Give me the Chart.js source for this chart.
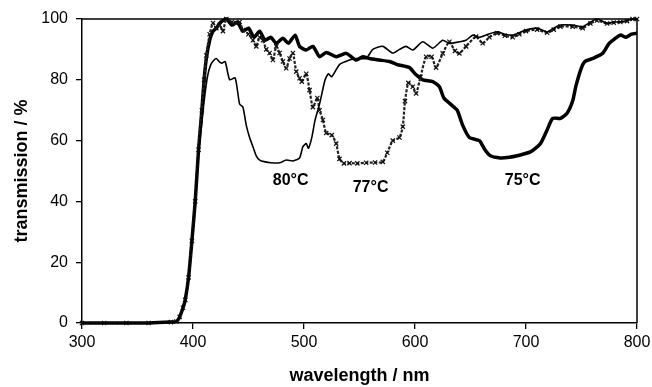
<!DOCTYPE html>
<html>
<head>
<meta charset="utf-8">
<script src="https://cdn.jsdelivr.net/npm/chart.js@4/dist/chart.umd.min.js"></script>
<style>
  html, body { margin: 0; padding: 0; background: #fff; }
  #wrap { width: 652px; height: 387px; }
</style>
</head>
<body>
<div id="wrap"><canvas id="spec"></canvas></div>
<script>
// transmission spectra
const wl80 = [300,320,340,360,380,385,388,391,393,396,399,402,405,408,410,413,416,419,421,424,426,429,433,438,442,445,448,451,454,457,460,465,470,478,484,490,496,499,502,504,507,510,514,519,522,525,532,541,547,556,562,571,580,586,592,598,607,616,625,631,640,646,652,658,666,674,681,688,694,700,710,719,725,731,742,751,758,764,773,779,785,791,796,800];
const t80  = [0,0,0,0,0.3,0.5,2,5,7.6,15,27,40,56,66,73,81,85,86.5,87,85.8,85.5,86,80,80.6,72,71,65,61,58,55,53.6,53,52.7,52.7,53.6,53.3,54.3,58,59,57.5,61,66.8,72,80,82,81,85,86.5,87,87,90,91,88.8,90,91,89.8,92.5,90.4,93,92,92.5,93,94.7,94,95,95.8,95,94.7,95.5,96.4,97,95.8,97,98,98,97.5,99,100,98.6,99,99,99.5,100,100];

const wl77 = [300,320,340,360,380,385,388,391,393,396,399,402,405,408,410,412,415,418,421,424,427,430,435,439,442,445,450,454,457,460,463,466,469,472,475,478,481,484,487,490,493,496,498,502,505,508,512,514,517,520,525,529,532,536,541,548,556,564,571,575,580,586,589,591,594,598,601,605,610,615,619,625,631,636,640,646,655,661,667,674,681,688,694,700,710,719,725,731,742,751,758,764,773,779,785,791,796,800];
const t77  = [0,0,0,0,0.3,0.5,2,5,7.6,15,27,40,57,70,80,88,95,98.7,97,98,96,100,99,98.6,99,96.4,95,93,91,94,93,90,88.8,86.5,91,88.8,86,83.8,87,88.8,82.7,80.5,79.4,82,76.6,71,74,70,66.8,62.5,61.8,59,54,52.5,52.6,52.5,52.7,52.8,53,56,60,61,64.6,73,79,77.7,75.5,81,87.6,87.6,84,88.7,92.5,89.5,88.7,91,94.2,92,94,95.3,94.5,94,95,96,96.5,95.5,96.5,97.5,97.5,97,98.5,99.5,98.5,98.8,99,99.3,100,100];

const wl75 = [300,320,340,360,380,385,388,391,393,396,399,402,405,408,410,412,415,418,421,425,430,435,440,445,450,455,460,465,470,475,481,486,492,496,502,508,514,520,529,538,547,553,559,568,577,584,595,600,607,616,622,626,632,638,643,649,658,663,668,677,685,692,704,713,719,724,731,737,742,745,750,753,760,769,775,785,790,795,800];
const t75  = [0,0,0,0,0.3,0.5,2,5,7.6,15,27,40,57,70,80,87,93,96,97,99,100,98,99,96,97,94,96,93,94,92,93.7,92,94.7,91,89.8,91,87.6,89,87.6,88.7,86.5,87.6,87,86.5,86,85,84,82,80,79.4,77.7,74,72,70,65,61,60,57,55,54.3,54.5,55,56.3,59,63.5,67.3,67.3,69,73,78,84,86,87,88.7,92,94.7,94,95,95.3];

const xTicks = [300, 400, 500, 600, 700, 800];
const yTicks = [0, 20, 40, 60, 80, 100];

// curve labels: text, wavelength, transmission
const labelText = ['80°C', '77°C', '75°C'];
const labelX = [488, 560, 697];
const labelY = [47, 44.5, 47];

const pts = (xs, ys) => xs.map((x, i) => ({ x, y: ys[i] }));

const frame = {
  id: 'frame',
  afterDraw(chart) {
    const { ctx, chartArea: a } = chart;
    ctx.save();
    ctx.strokeStyle = '#000';
    ctx.lineWidth = 1.5;
    ctx.beginPath();
    ctx.moveTo(a.left, a.top);
    ctx.lineTo(a.right, a.top);
    ctx.lineTo(a.right, a.bottom);
    ctx.stroke();
    ctx.restore();
  }
};

const curveLabels = {
  id: 'curveLabels',
  afterDatasetsDraw(chart) {
    const { ctx, scales } = chart;
    ctx.save();
    ctx.fillStyle = '#000';
    ctx.font = 'bold 16px "Liberation Sans", Arial, sans-serif';
    ctx.textAlign = 'center';
    ctx.textBaseline = 'middle';
    labelText.forEach((t, i) => {
      ctx.fillText(t, scales.x.getPixelForValue(labelX[i]), scales.y.getPixelForValue(labelY[i]));
    });
    ctx.restore();
  }
};

const tickFont = { family: '"Liberation Sans", Arial, sans-serif', size: 16 };
const titleFont = { family: '"Liberation Sans", Arial, sans-serif', size: 18, weight: 'bold' };

new Chart(document.getElementById('spec'), {
  type: 'line',
  data: {
    datasets: [
      {
        label: '80°C',
        data: pts(wl80, t80),
        borderColor: '#000',
        borderWidth: 1.6,
        pointRadius: 0,
        tension: 0.2,
        clip: 4,
        order: 1
      },
      {
        label: '77°C',
        data: pts(wl77, t77),
        borderColor: '#222',
        borderWidth: 2.2,
        borderDash: [3, 1.5],
        pointStyle: 'crossRot',
        pointRadius: 3,
        pointBorderWidth: 1.2,
        pointBorderColor: '#111',
        tension: 0.2,
        clip: 4,
        order: 2
      },
      {
        label: '75°C',
        data: pts(wl75, t75),
        borderColor: '#000',
        borderWidth: 3.5,
        pointRadius: 0,
        tension: 0.2,
        clip: 4,
        order: 3
      }
    ]
  },
  options: {
    responsive: true,
    maintainAspectRatio: false,
    animation: false,
    layout: { padding: { left: 0, right: 15, top: 19, bottom: 0 } },
    plugins: { legend: { display: false }, tooltip: { enabled: false } },
    scales: {
      x: {
        type: 'linear',
        min: 300, max: 800,
        afterBuildTicks: s => { s.ticks = xTicks.map(v => ({ value: v })); },
        afterFit: s => { s.height = 64; s.paddingRight = 0; s.paddingLeft = 0; },
        ticks: { color: '#000', font: tickFont, padding: 4, maxRotation: 0 },
        grid: { drawOnChartArea: false, drawTicks: true, tickLength: 6, color: '#000', lineWidth: 1.3 },
        border: { color: '#000', width: 1.5 },
        title: { display: true, text: 'wavelength / nm', color: '#000', font: titleFont, padding: { top: 6, bottom: 0 } }
      },
      y: {
        min: 0, max: 100,
        afterBuildTicks: s => { s.ticks = yTicks.map(v => ({ value: v })); },
        afterFit: s => { s.width = 82; },
        ticks: { color: '#000', font: tickFont, padding: 8 },
        grid: { drawOnChartArea: false, drawTicks: true, tickLength: 6, color: '#000', lineWidth: 1.3 },
        border: { color: '#000', width: 1.5 },
        title: { display: true, text: 'transmission / %', color: '#000', font: titleFont, padding: { top: 11, bottom: 0 } }
      }
    }
  },
  plugins: [frame, curveLabels]
});
</script>
</body>
</html>
